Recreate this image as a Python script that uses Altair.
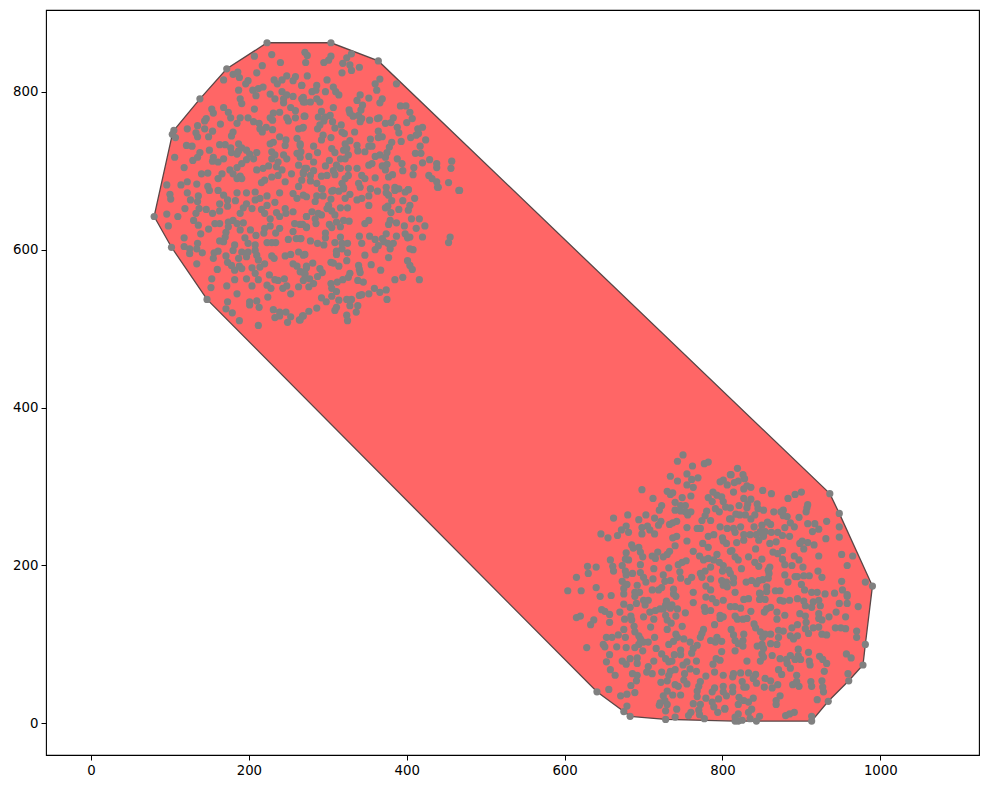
import altair as alt
import numpy as np
import pandas as pd

upper_left = [(80,642),(103,746),(105,751),(138,791),(172,829),(223,862),(304,862),(364,839),(936,291),(948,266),(990,174)]
lower_right = [(80,642),(102,603),(147,537),(641,40),(675,15),(683,9),(728,5),(816,3),(913,3),(934,28),(960,54),(978,74),(981,100),(990,174)]

cluster_top_left_1 = [(223,862),(207,845),(229,847),(240,837),(217,833),(172,829),(210,824),(180,822),(186,825),(188,818),(168,815),(199,814),(196,810),(232,815),(236,810),(242,815),(248,820),(259,819),(256,814),(267,808),(205,802),(212,804),(218,806),(209,795),(187,802),(227,797),(233,791),(242,800),(244,791),(248,796),(256,794),(269,793),(271,787),(138,791),(189,791),(191,785),(244,786),(207,778),(168,780),(153,778),(155,773),(174,774),(177,767),(253,780),(259,776),(231,773),(239,774),(227,767),(230,764),(248,767),(259,767),(250,763),(271,769),(189,767),(199,767),(185,760),(206,762),(213,760),(146,766),(144,763),(164,759),(135,757),(122,753),(105,751),(103,746),(107,742),(144,753),(133,748),(135,743),(154,750),(149,743),(180,749),(178,744),(214,753),(222,755),(230,752),(217,749),(263,753),(269,755),(239,743),(247,739),(261,741),(246,732),(227,734),(231,736),(265,734),(121,732),(128,731),(163,733),(170,733),(177,729),(187,734),(191,729),(197,726),(187,725),(150,726),(138,723),(135,717),(106,717),(129,713),(155,717),(154,712),(161,711),(168,715),(178,723),(185,721),(201,721),(210,723),(206,715),(197,714),(229,724),(233,720),(244,720),(261,722),(265,717),(229,715),(237,711),(248,715),(263,707),(118,704),(191,709),(185,704),(176,701),(180,696),(189,693),(210,701),(218,703),(225,706),(235,705),(242,701),(271,703),(269,696),(254,696),(140,696),(148,697),(166,696),(161,690),(220,688),(229,692),(237,694),(246,686),(216,685),(122,686),(96,682),(114,682),(134,683),(148,680),(185,690),(191,690),(263,680)]

cluster_top_left_2 = [(304,862),(364,839),(271,850),(274,846),(272,837),(295,837),(301,840),(304,845),(330,848),(324,843),(319,836),(328,834),(330,827),(340,831),(318,824),(274,820),(299,815),(366,816),(360,810),(387,810),(362,802),(267,808),(286,808),(280,800),(285,802),(297,800),(307,806),(310,800),(314,796),(286,791),(290,787),(267,791),(269,787),(278,787),(341,796),(337,789),(352,792),(369,791),(366,786),(392,782),(399,782),(344,783),(342,777),(327,777),(328,773),(307,780),(292,775),(404,774),(270,769),(288,768),(297,768),(303,770),(332,769),(339,770),(343,766),(341,762),(353,764),(363,766),(365,767),(383,767),(407,766),(400,761),(295,763),(290,758),(306,762),(373,760),(380,761),(309,754),(317,758),(287,753),(268,754),(388,755),(390,748),(420,755),(414,753),(415,747),(318,749),(321,747),(334,749),(364,750),(294,745),(304,742),(292,739),(364,742),(369,743),(354,740),(405,742),(412,745),(424,739),(393,737),(328,738),(322,734),(337,732),(352,731),(356,731),(381,736),(378,730),(282,731),(417,731),(305,728),(309,723),(324,728),(320,726),(287,723),(338,725),(347,724),(375,723),(411,722),(418,722),(265,732),(266,724),(326,720),(360,718),(366,720),(373,717),(322,715),(316,715),(276,718),(282,711),(302,713),(388,715),(394,709),(429,714),(420,710),(438,709),(457,712),(438,704),(456,703),(311,707),(316,703),(326,703),(337,703),(352,707),(356,709),(369,706),(375,708),(373,701),(409,704),(395,700),(408,695),(297,706),(273,703),(282,700),(269,698),(278,694),(292,693),(299,694),(307,700),(309,695),(326,694),(343,694),(347,690),(360,691),(377,692),(382,695),(428,694),(432,690),(438,686),(453,685),(322,690),(318,684),(339,684),(278,687),(286,684),(267,688),(440,679),(466,675),(292,677),(307,675),(320,677),(341,679),(354,677),(374,679),(385,679),(390,677),(402,676)]

cluster_top_left_3 = [(80,642),(96,645),(110,642),(98,630),(100,670),(101,664),(122,672),(126,663),(136,668),(135,661),(150,675),(161,675),(168,669),(173,663),(173,655),(163,658),(185,672),(183,662),(197,672),(208,673),(214,665),(208,663),(223,668),(239,672),(233,660),(256,671),(261,665),(269,669),(119,652),(137,652),(133,646),(146,651),(154,646),(163,649),(197,658),(193,653),(189,646),(180,637),(204,652),(216,651),(223,656),(220,646),(235,647),(239,642),(247,646),(256,648),(246,652),(273,642),(227,639),(130,637),(136,631),(157,633),(163,633),(174,635),(149,626),(174,629),(185,633),(193,634),(189,625),(202,625),(227,630),(220,627),(219,621),(239,627),(234,621),(258,633),(265,632),(256,623),(273,629),(139,620),(171,622),(118,615),(170,616),(163,611),(168,610),(209,618),(195,615),(223,609),(229,609),(234,609),(250,613),(260,614),(265,614),(135,608),(118,604),(102,603),(125,601),(134,601),(125,595),(141,596),(182,606),(199,608),(208,606),(199,597),(191,597),(208,599),(210,593),(212,587),(180,599),(161,598),(156,596),(171,592),(155,589),(187,589),(197,591),(229,592),(232,589),(246,592),(253,594),(263,597),(269,593),(134,582),(173,584),(178,580),(188,579),(256,582),(261,579),(273,579),(160,575),(182,574),(191,576),(204,577),(214,578),(220,582),(208,570),(265,572),(226,568),(271,568),(153,563),(182,562),(197,563),(212,562),(245,563),(233,562),(237,561),(269,561),(204,554),(172,554),(152,552),(223,555),(228,551),(248,554),(243,551),(263,553),(185,544),(253,544),(224,540),(147,537),(173,534),(201,534),(210,535),(201,530),(213,527),(171,525),(179,520),(231,524),(239,521),(247,521),(233,514),(239,516),(253,515),(188,510),(249,508),(269,516),(264,511),(212,504)]

cluster_top_left_4 = [(273,667),(293,677),(286,668),(294,668),(284,661),(305,674),(314,674),(320,679),(322,665),(328,670),(337,663),(343,665),(352,668),(354,677),(363,674),(374,672),(385,675),(377,669),(381,662),(395,662),(398,673),(402,676),(410,665),(439,679),(467,675),(304,664),(352,656),(373,653),(376,655),(390,651),(380,647),(404,656),(402,650),(301,656),(299,652),(305,649),(309,644),(316,653),(325,653),(280,648),(288,646),(292,644),(273,642),(284,639),(285,633),(268,632),(273,628),(302,632),(305,628),(311,635),(316,629),(320,637),(327,636),(352,637),(347,633),(379,637),(377,632),(387,634),(406,639),(416,639),(397,630),(423,630),(412,627),(297,621),(297,615),(316,616),(340,617),(353,617),(374,620),(387,617),(398,620),(401,615),(404,616),(420,616),(455,616),(453,609),(266,614),(278,611),(287,608),(295,606),(309,609),(318,608),(325,608),(343,608),(360,613),(369,614),(371,610),(376,608),(383,608),(364,605),(360,600),(379,601),(404,601),(408,600),(311,598),(318,601),(325,596),(311,594),(271,594),(347,593),(377,590),(281,583),(304,584),(307,583),(314,579),(324,586),(401,586),(404,580),(355,581),(339,580),(273,577),(290,576),(293,571),(266,572),(271,570),(340,575),(341,571),(367,574),(407,575),(328,570),(287,566),(277,563),(326,565),(319,562),(312,559),(338,561),(345,559),(385,562),(395,565),(416,562),(282,557),(276,553),(304,557),(305,551),(311,547),(359,551),(366,546),(374,549),(352,544),(343,543),(340,542),(305,541),(292,539),(298,534),(314,536),(324,537),(330,537),(375,537),(328,529),(338,529),(311,527),(309,523),(286,526),(276,522),(336,521),(324,517),(325,510),(268,516),(265,511)]

cluster_bottom_right_1 = [(750,340),(743,332),(782,331),(777,329),(762,326),(755,316),(734,313),(743,307),(761,309),(769,311),(801,308),(797,306),(810,315),(755,302),(763,299),(806,302),(698,296),(730,294),(737,292),(734,290),(760,288),(712,285),(749,286),(788,293),(782,286),(793,289),(799,287),(787,281),(801,281),(804,274),(740,280),(753,276),(747,276),(740,270),(723,276),(720,270),(747,269),(753,268),(760,268),(756,264),(791,272),(796,268),(780,269),(778,263),(774,257),(785,257),(809,259),(680,264),(662,260),(703,264),(694,258),(714,260),(722,256),(719,251),(742,256),(737,254),(733,252),(678,250),(672,245),(681,242),(698,248),(705,250),(708,245),(755,248),(768,247),(772,247),(797,249),(806,247),(646,240),(655,235),(667,238),(698,240),(714,240),(737,235),(742,237),(782,237),(789,239),(800,235),(801,231),(805,228),(755,231),(775,228),(782,223),(740,225),(685,226),(687,222),(694,223),(696,217),(699,211),(678,216),(718,217),(711,212),(715,209),(733,218),(730,214),(725,211),(763,218),(771,212),(793,214),(810,218),(776,207),(782,209),(789,207),(796,204),(658,207),(681,207),(677,208),(754,206),(749,204),(744,201),(801,200),(629,199),(640,198),(661,199),(673,200),(696,201),(785,198),(713,196),(732,197),(662,193),(677,193),(630,190),(686,190),(696,191),(678,188),(725,188),(746,192),(772,190),(778,193),(800,193),(808,194),(615,185),(700,185),(712,183),(747,184),(761,185),(774,185),(785,183),(703,179),(727,180),(734,181),(756,180),(799,181),(805,179),(673,180),(679,176),(692,175),(779,174),(801,175),(604,168),(621,168),(640,172),(675,171),(689,166),(695,166),(711,169),(719,169),(723,172),(738,170),(785,169),(806,173),(763,166)]

cluster_bottom_right_2 = [(936,291),(948,266),(819,323),(811,315),(826,315),(828,310),(820,307),(815,305),(827,297),(831,301),(836,299),(814,293),(851,295),(862,291),(900,293),(892,290),(883,285),(827,285),(836,284),(832,278),(844,278),(821,276),(810,273),(831,273),(845,272),(852,270),(908,277),(907,273),(906,268),(865,268),(877,270),(874,268),(877,263),(882,262),(897,261),(817,265),(822,264),(829,264),(841,264),(836,259),(811,259),(932,256),(908,253),(917,253),(857,255),(861,252),(850,251),(886,254),(891,249),(879,248),(840,249),(823,249),(814,247),(948,249),(922,246),(914,243),(816,242),(848,243),(862,242),(870,242),(854,243),(876,238),(885,237),(827,239),(835,239),(843,239),(852,237),(846,232),(827,232),(948,236),(931,234),(818,229),(868,230),(860,228),(898,228),(901,231),(908,229),(916,226),(903,221),(842,221),(812,219),(864,217),(876,219),(870,215),(891,212),(922,212),(951,214),(965,212),(816,211),(833,211),(876,208),(897,207),(820,207),(850,208),(841,204),(879,201),(888,200),(846,199),(902,198),(958,200),(824,196),(860,198),(858,194),(921,193),(810,190),(859,190),(879,188),(892,186),(895,186),(903,187),(910,187),(926,185),(814,184),(858,184),(837,181),(846,181),(851,182),(830,179),(883,179),(951,180),(814,178),(843,177),(981,179),(990,174),(900,176),(816,166),(856,173),(904,169),(952,169),(847,165),(856,167),(867,168),(873,168),(913,166),(920,166),(930,164),(942,165),(958,163)]

cluster_bottom_right_3 = [(645,161),(659,162),(675,164),(689,161),(691,152),(675,151),(683,147),(700,156),(706,156),(702,150),(738,164),(741,161),(763,153),(779,160),(787,158),(792,153),(801,156),(729,155),(728,150),(725,145),(734,146),(743,145),(736,150),(721,145),(715,143),(708,141),(777,147),(778,142),(785,143),(647,144),(651,142),(657,138),(670,141),(753,140),(741,136),(728,137),(615,134),(620,136),(684,136),(676,132),(685,131),(700,135),(713,132),(637,131),(633,125),(657,128),(730,131),(797,137),(801,135),(797,133),(735,127),(749,123),(688,123),(709,122),(790,125),(730,119),(675,119),(689,116),(776,119),(774,114),(772,109),(741,113),(668,112),(677,109),(694,111),(696,107),(714,109),(653,109),(660,109),(700,103),(706,103),(738,104),(743,109),(751,107),(759,103),(793,109),(785,105),(799,104),(791,103),(649,100),(651,97),(666,97),(732,100),(768,99),(628,96),(678,96),(689,96),(694,100),(716,95),(747,93),(763,95),(699,92),(761,89),(799,91),(657,87),(723,88),(739,87),(747,87),(728,82),(683,82),(692,83),(673,79),(653,78),(678,75),(692,76),(713,79),(732,78),(736,79),(755,78),(750,74),(767,79),(792,82),(797,80),(788,75),(706,72),(740,68),(734,66),(658,68),(704,65),(711,63),(723,65),(759,69),(767,66),(790,65),(664,61),(686,63),(692,61),(752,63),(732,61),(779,60),(801,61),(730,54),(691,54),(751,55),(755,50),(772,53),(722,52),(740,49),(744,47),(684,48),(770,47),(790,45),(801,47),(656,43),(641,40),(768,41),(689,39),(679,37),(671,35),(730,41),(737,36),(747,36),(725,35),(787,40),(768,34),(795,31),(805,35),(779,32),(727,29),(721,26),(720,23),(730,24),(763,25),(772,24),(787,27),(789,21),(679,22),(675,15),(728,16),(742,18),(770,17),(803,19),(794,14),(760,14),(757,10),(771,11),(683,9),(740,8),(728,5),(777,6)]

cluster_bottom_right_4 = [(848,164),(958,161),(827,157),(833,158),(847,157),(854,157),(873,156),(877,155),(885,156),(895,158),(903,155),(905,149),(915,154),(922,156),(913,147),(924,149),(948,152),(958,152),(972,148),(810,148),(816,148),(823,146),(836,142),(861,147),(856,145),(853,141),(869,141),(879,137),(869,132),(922,139),(922,133),(926,131),(935,135),(944,141),(956,135),(898,139),(905,136),(816,136),(819,132),(826,132),(831,133),(906,128),(840,126),(842,121),(811,119),(848,116),(895,125),(888,121),(915,121),(922,122),(905,120),(943,121),(950,121),(956,120),(854,113),(861,113),(871,118),(877,117),(814,112),(827,113),(909,114),(926,113),(932,112),(970,117),(970,109),(851,109),(871,109),(886,111),(895,111),(890,107),(816,105),(826,105),(861,101),(869,100),(850,100),(844,98),(820,101),(826,98),(981,100),(816,92),(852,95),(850,88),(896,94),(909,90),(957,88),(963,83),(863,86),(886,86),(873,82),(896,86),(899,81),(923,85),(927,81),(852,84),(848,79),(831,79),(881,81),(892,81),(910,79),(911,74),(932,76),(882,76),(886,70),(871,68),(929,66),(978,74),(823,64),(814,63),(833,64),(842,62),(875,62),(813,59),(839,57),(894,61),(959,63),(854,57),(861,54),(843,51),(825,53),(926,54),(912,53),(894,53),(960,54),(870,49),(827,46),(830,46),(913,47),(889,49),(897,47),(813,46),(853,46),(863,45),(927,46),(813,40),(801,40),(928,40),(873,35),(821,33),(827,29),(839,32),(833,27),(868,29),(868,24),(920,30),(934,28),(820,24),(803,18),(837,18),(833,14),(820,12),(816,8),(847,9),(891,14),(885,12),(880,10),(913,9),(835,6),(816,3),(825,4),(820,3),(843,3),(913,3)]

x_ticks = [0, 200, 400, 600, 800, 1000]
y_ticks = [0, 200, 400, 600, 800]
x_domain = [-57, 1125]
y_domain = [-40, 903.5]

clusters = (cluster_top_left_1 + cluster_top_left_2 + cluster_top_left_3 + cluster_top_left_4
            + cluster_bottom_right_1 + cluster_bottom_right_2 + cluster_bottom_right_3 + cluster_bottom_right_4)
points = pd.DataFrame(clusters, columns=["x", "y"])

# the hull as a closed outline
outline = upper_left + lower_right[::-1][1:]
hull = pd.DataFrame(outline, columns=["x", "y"])
hull["i"] = range(len(hull))

# the same hull as an area between its upper and lower edges
ux, uy = zip(*upper_left)
lx, ly = zip(*lower_right)
all_x = sorted(set(ux) | set(lx))
band = pd.DataFrame({"x": all_x, "top": np.interp(all_x, ux, uy), "bottom": np.interp(all_x, lx, ly)})

x_scale = alt.Scale(domain=x_domain, nice=False, zero=False)
y_scale = alt.Scale(domain=y_domain, nice=False, zero=False)

x_axis = alt.Axis(values=x_ticks, format="d", grid=False, domain=False, title=None, tickColor="black", tickSize=5,
                  labelFont="DejaVu Sans", labelFontSize=13.3, labelColor="black", labelPadding=3, labelFlush=False)
y_axis = alt.Axis(values=y_ticks, format="d", grid=False, domain=False, title=None, tickColor="black", tickSize=5,
                  labelFont="DejaVu Sans", labelFontSize=13.3, labelColor="black", labelPadding=3)

area = alt.Chart(band).mark_area(color="#ff6666", opacity=1).encode(
    x=alt.X("x:Q", scale=x_scale, axis=x_axis),
    y=alt.Y("top:Q", scale=y_scale, axis=y_axis),
    y2="bottom:Q",
)
edge = alt.Chart(hull).mark_line(color="#5a4646", strokeWidth=1.3).encode(
    x=alt.X("x:Q", scale=x_scale), y=alt.Y("y:Q", scale=y_scale), order="i:Q"
)
dots = alt.Chart(points).mark_circle(color="#808080", opacity=1, size=52).encode(
    x=alt.X("x:Q", scale=x_scale), y=alt.Y("y:Q", scale=y_scale)
)

chart = (area + edge + dots).properties(
    width=933, height=745,
    padding={"left": 38, "top": 2, "right": 2, "bottom": 26},
    autosize=alt.AutoSizeParams(type="none"),
    background="white",
).configure_view(stroke="black", strokeWidth=1.1)

chart.save("out.html", embed_options={"renderer": "svg", "actions": False})
